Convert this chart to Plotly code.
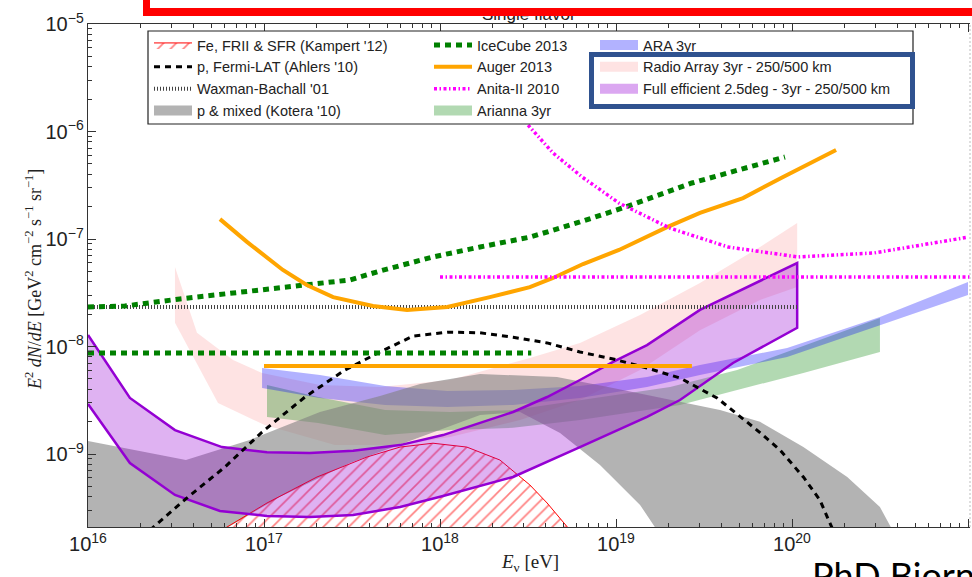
import plotly.graph_objects as go

# ---------------- data: E in eV, E^2 dN/dE in GeV cm^-2 s^-1 sr^-1 ----------------
icecube_E = [1.0e16, 1.62e16, 3.33e16, 5.85e16, 1.12e17, 1.75e17, 3.08e17, 4.56e17, 9.12e17,
             1.69e18, 3.24e18, 6.24e18, 1.14e19, 2.70e19, 5.55e19, 9.12e19]
icecube_F = [2.33e-8, 2.38e-8, 2.77e-8, 3.08e-8, 3.50e-8, 3.81e-8, 4.16e-8, 5.04e-8, 6.81e-8,
             8.43e-8, 1.04e-7, 1.44e-7, 1.99e-7, 3.32e-7, 4.68e-7, 5.79e-7]
icecube_int_E = [1.0e16, 3.3e18]
icecube_int_F = [8.7e-9, 8.7e-9]

auger_E = [5.62e16, 8.0e16, 1.28e17, 1.75e17, 2.47e17, 4.16e17, 6.5e17, 1.10e18, 1.92e18,
           3.24e18, 4.39e18, 6.5e18, 1.04e19, 1.95e19, 3.0e19, 5.27e19, 8.9e19, 1.78e20]
auger_F = [1.53e-7, 9.4e-8, 5.15e-8, 3.73e-8, 2.88e-8, 2.38e-8, 2.19e-8, 2.33e-8, 2.88e-8,
           3.57e-8, 4.34e-8, 5.85e-8, 7.91e-8, 1.29e-7, 1.75e-7, 2.40e-7, 3.78e-7, 6.73e-7]
auger_int_E = [1.0e17, 2.7e19]
auger_int_F = [6.6e-9, 6.6e-9]

anita_E = [2.34e18, 3.16e18, 4.39e18, 6.41e18, 1.04e19, 2.03e19, 4.33e19, 1.08e20, 2.92e20, 1.0e21]
anita_F = [2.19e-6, 1.15e-6, 6.31e-7, 3.78e-7, 2.16e-7, 1.26e-7, 8.43e-8, 6.81e-8, 7.41e-8, 1.04e-7]
anita_int_E = [1.0e18, 1.05e21]
anita_int_F = [4.44e-8, 4.44e-8]

fermi_E = [2.25e16, 3.70e16, 6.0e16, 9.75e16, 1.71e17, 2.88e17, 4.56e17, 7.03e17, 1.10e18, 1.69e18,
           2.60e18, 4.06e18, 6.24e18, 9.62e18, 1.50e19, 2.31e19, 3.75e19, 6.32e19, 8.55e19,
           1.16e20, 1.44e20, 1.71e20]
fermi_F = [1.96e-10, 3.98e-10, 7.57e-10, 1.60e-9, 3.39e-9, 6.04e-9, 8.89e-9, 1.25e-8, 1.36e-8, 1.34e-8,
           1.22e-8, 1.08e-8, 8.89e-9, 7.66e-9, 6.31e-9, 5.09e-9, 3.32e-9, 1.67e-9, 1.09e-9,
           6.11e-10, 3.73e-10, 1.96e-10]

wb_E = [1.0e16, 1.08e20]
wb_F = [2.33e-8, 2.33e-8]

kotera_up_E = [1e16, 3.6e16, 8.3e16, 2.08e17, 4.56e17, 7.7e17, 1.69e18, 4.62e18, 9.62e18, 2.03e19,
               3.9e19, 6.58e19, 1.16e20, 2.06e20, 3.16e20, 3.85e20]
kotera_up_F = [1.32e-9, 8.8e-10, 1.35e-9, 2.46e-9, 3.47e-9, 4.48e-9, 5.55e-9, 5.2e-9, 4.11e-9, 3.18e-9,
               2.56e-9, 1.99e-9, 1.16e-9, 6.1e-10, 3.21e-10, 1.77e-10]
kotera_lo_E = [1e16, 5.27e16, 1.23e17, 3.08e17, 7.7e17, 1.69e18, 2.85e18, 4.81e18, 8.11e18, 1.37e19, 1.78e19]
kotera_lo_F = [1.77e-10, 1.77e-10, 3.98e-10, 8.24e-10, 1.44e-9, 2.31e-9, 2.46e-9, 1.57e-9, 7.9e-10,
               3.36e-10, 1.77e-10]

kampert_E = [5.2e16, 6.17e16, 1.04e17, 2.0e17, 3.85e17, 5.93e17, 9.12e17, 1.42e18, 2.19e18, 3.24e18,
             4.06e18, 5.77e18]
kampert_F = [1.77e-10, 2.09e-10, 3.50e-10, 6.11e-10, 9.38e-10, 1.16e-9, 1.26e-9, 1.16e-9, 8.79e-10,
             5.15e-10, 3.50e-10, 1.77e-10]

radio_up_E = [3.12e16, 4.16e16, 6.67e16, 9.75e16, 2.08e17, 4.56e17, 1.14e18, 3.24e18, 6.24e18,
              1.37e19, 3.0e19, 6.58e19, 1.07e20]
radio_up_F = [5.5e-8, 1.34e-8, 7.48e-9, 5.66e-9, 4.39e-9, 4.2e-9, 4.88e-9, 7.82e-9, 1.08e-8,
              1.96e-8, 3.9e-8, 8.43e-8, 1.41e-7]
radio_lo_E = [3.12e16, 5.48e16, 1.01e17, 2.53e17, 5.93e17, 1.14e18, 2.85e18, 6.24e18, 1.37e19,
              3.0e19, 6.58e19, 1.07e20]
radio_lo_F = [1.66e-8, 2.98e-9, 1.86e-9, 1.21e-9, 1.21e-9, 1.44e-9, 2.07e-9, 3.18e-9, 6.04e-9,
              1.42e-8, 2.71e-8, 3.57e-8]

ara_E = [9.75e16, 2.08e17, 4.88e17, 1.10e18, 2.60e18, 6.24e18, 1.50e19, 3.0e19, 9.38e19, 3.16e20, 1.0e21]
ara_up_F = [6.31e-9, 5.43e-9, 4.30e-9, 3.86e-9, 3.94e-9, 4.30e-9, 5.20e-9, 6.73e-9, 9.68e-9, 1.88e-8, 3.98e-8]
ara_lo_F = [4.11e-9, 3.32e-9, 2.86e-9, 2.74e-9, 2.86e-9, 3.32e-9, 4.2e-9, 5.43e-9, 7.98e-9, 1.58e-8, 3.01e-8]

arianna_up_E = [1.04e17, 2.03e17, 4.88e17, 1.14e18, 2.60e18, 6.24e18, 2.03e19, 4.88e19, 9.38e19, 3.16e20]
arianna_up_F = [4.39e-9, 3.39e-9, 2.56e-9, 2.46e-9, 2.56e-9, 3.18e-9, 4.2e-9, 6.04e-9, 8.89e-9, 1.84e-8]
arianna_lo_E = [1.04e17, 2.03e17, 4.88e17, 1.14e18, 2.60e18, 6.24e18, 2.31e19, 4.88e19, 1.16e20, 3.16e20]
arianna_lo_F = [2.21e-9, 1.94e-9, 1.50e-9, 1.67e-9, 1.75e-9, 2.07e-9, 2.86e-9, 3.94e-9, 5.66e-9, 8.89e-9]

full_up_E = [1e16, 1.73e16, 3.12e16, 5.77e16, 1.04e17, 1.82e17, 3.21e17, 5.93e17, 1.04e18, 1.69e18,
             2.60e18, 4.06e18, 6.24e18, 9.62e18, 1.50e19, 3.0e19, 1.07e20]
full_up_F = [1.28e-8, 3.32e-9, 1.67e-9, 1.16e-9, 1.04e-9, 1.02e-9, 1.07e-9, 1.21e-9, 1.50e-9, 1.94e-9,
             2.46e-9, 3.39e-9, 4.88e-9, 7.18e-9, 1.03e-8, 2.19e-8, 5.98e-8]
full_lo_E = [1e16, 1.73e16, 3.12e16, 5.62e16, 1.04e17, 1.82e17, 3.21e17, 5.93e17, 1.04e18, 2.60e18,
             6.24e18, 1.50e19, 2.31e19, 4.62e19, 1.07e20]
full_lo_F = [2.92e-9, 8.24e-10, 4.16e-10, 2.95e-10, 2.65e-10, 2.59e-10, 2.71e-10, 3.21e-10, 4.06e-10,
             6.11e-10, 1.16e-9, 2.21e-9, 3.18e-9, 7.03e-9, 1.49e-8]

labels = {
    "kampert": "Fe, FRII &amp; SFR (Kampert '12)",
    "fermi": "p, Fermi-LAT (Ahlers '10)",
    "wb": "Waxman-Bachall '01",
    "kotera": "p &amp; mixed (Kotera '10)",
    "icecube": "IceCube 2013",
    "auger": "Auger 2013",
    "anita": "Anita-II 2010",
    "arianna": "Arianna 3yr",
    "ara": "ARA 3yr",
    "radio": "Radio Array 3yr - 250/500 km",
    "full": "Full efficient 2.5deg - 3yr - 250/500 km",
}

colors = {
    "radio": "rgba(250,128,128,0.22)",
    "arianna": "rgba(0,128,0,0.30)",
    "ara": "rgba(0,0,255,0.30)",
    "kotera": "rgba(128,128,128,0.6)",
    "full_fill": "rgba(148,0,211,0.30)",
    "full_line": "#9400D3",
}


def band(upE, upF, loE, loF):
    return list(upE) + list(loE)[::-1], list(upF) + list(loF)[::-1]


fig = go.Figure()

# ---- filled bands ----
x, y = band(radio_up_E, radio_up_F, radio_lo_E, radio_lo_F)
fig.add_trace(go.Scatter(x=x, y=y, fill="toself", mode="lines", line=dict(width=0),
                         fillcolor=colors["radio"], showlegend=False))
x, y = band(arianna_up_E, arianna_up_F, arianna_lo_E, arianna_lo_F)
fig.add_trace(go.Scatter(x=x, y=y, fill="toself", mode="lines", line=dict(width=0),
                         fillcolor=colors["arianna"], showlegend=False))
x, y = band(ara_E, ara_up_F, ara_E, ara_lo_F)
fig.add_trace(go.Scatter(x=x, y=y, fill="toself", mode="lines", line=dict(width=0),
                         fillcolor=colors["ara"], showlegend=False))
x, y = band(kotera_up_E, kotera_up_F, kotera_lo_E, kotera_lo_F)
fig.add_trace(go.Scatter(x=x, y=y, fill="toself", mode="lines", line=dict(width=0),
                         fillcolor=colors["kotera"], showlegend=False))
fig.add_trace(go.Scatter(x=kampert_E, y=kampert_F, fill="toself", mode="lines",
                         line=dict(color="red", width=1), fillcolor="rgba(0,0,0,0)",
                         fillpattern=dict(shape="/", fgcolor="red", bgcolor="rgba(0,0,0,0)",
                                          size=9, solidity=0.18),
                         name=labels["kampert"], legend="legend", legendrank=1))
x, y = band(full_up_E, full_up_F, full_lo_E, full_lo_F)
fig.add_trace(go.Scatter(x=x, y=y, fill="toself", mode="lines",
                         line=dict(color=colors["full_line"], width=2.5),
                         fillcolor=colors["full_fill"], showlegend=False))

# ---- lines ----
fig.add_trace(go.Scatter(x=wb_E, y=wb_F, mode="lines",
                         line=dict(color="#444", width=4, dash="1px,2px"),
                         name=labels["wb"], legend="legend", legendrank=3))
fig.add_trace(go.Scatter(x=fermi_E, y=fermi_F, mode="lines",
                         line=dict(color="black", width=3, dash="6px,5px"),
                         name=labels["fermi"], legend="legend", legendrank=2))
fig.add_trace(go.Scatter(x=icecube_E, y=icecube_F, mode="lines",
                         line=dict(color="#008000", width=5, dash="6px,5px"),
                         name=labels["icecube"], legend="legend2", legendrank=1))
fig.add_trace(go.Scatter(x=icecube_int_E, y=icecube_int_F, mode="lines",
                         line=dict(color="#008000", width=5, dash="6px,5px"),
                         showlegend=False))
fig.add_trace(go.Scatter(x=auger_E, y=auger_F, mode="lines",
                         line=dict(color="#FFA500", width=4),
                         name=labels["auger"], legend="legend2", legendrank=2))
fig.add_trace(go.Scatter(x=auger_int_E, y=auger_int_F, mode="lines",
                         line=dict(color="#FFA500", width=4), showlegend=False))
fig.add_trace(go.Scatter(x=anita_E, y=anita_F, mode="lines",
                         line=dict(color="#FF00FF", width=3.5, dash="3px,2.5px,1.5px,2.5px"),
                         name=labels["anita"], legend="legend2", legendrank=3))
fig.add_trace(go.Scatter(x=anita_int_E, y=anita_int_F, mode="lines",
                         line=dict(color="#FF00FF", width=3.5, dash="3px,2.5px,1.5px,2.5px"),
                         showlegend=False))

# ---- legend swatches for the filled bands (rectangular patches) ----
for key, leg, rank in [("kotera", "legend", 4), ("arianna", "legend2", 4), ("ara", "legend3", 1),
                       ("radio", "legend3", 2)]:
    fig.add_trace(go.Scatter(x=[None], y=[None], mode="lines",
                             line=dict(color=colors[key], width=13),
                             name=labels[key], legend=leg, legendrank=rank))
fig.add_trace(go.Scatter(x=[None], y=[None], mode="lines",
                         line=dict(color="rgba(175,60,225,0.45)", width=13),
                         name=labels["full"], legend="legend3", legendrank=3))

# ---- layout (pixel helpers for paper coordinates) ----
L, R, T, B = 88, 970, 24, 527
W, H = 972, 577


def px(X):
    return (X - L) / (R - L)


def py(Y):
    return (B - Y) / (B - T)


legend_common = dict(bgcolor="rgba(0,0,0,0)", borderwidth=0, xanchor="left", yanchor="top",
                     font=dict(family="Liberation Sans", size=14.5, color="#222"),
                     tracegroupgap=0, itemwidth=38, traceorder="normal")

axis_common = dict(type="log", showgrid=False, zeroline=False, showline=True, linecolor="#333",
                   linewidth=1.2, ticks="inside", ticklen=8, tickcolor="#333",
                   dtick=1, exponentformat="power",
                   tickfont=dict(family="Liberation Sans", size=16, color="#222"),
                   minor=dict(ticks="inside", ticklen=4, tickcolor="#333", dtick="D1", showgrid=False))

fig.update_layout(
    width=W, height=H,
    margin=dict(l=L, r=W - R, t=T, b=H - B),
    paper_bgcolor="white", plot_bgcolor="white",
    hovermode=False,
    xaxis=dict(axis_common, mirror="ticks", range=[16, 16 + (R - L) / 176]),
    yaxis=dict(axis_common, mirror=False, range=[-5 - (B - T) / 107.5, -5]),
    legend=dict(legend_common, x=px(149), y=py(29)),
    legend2=dict(legend_common, x=px(429), y=py(29)),
    legend3=dict(legend_common, x=px(595), y=py(29)),
    shapes=[
        dict(type="rect", xref="paper", yref="paper", x0=px(148), x1=px(913), y0=py(124), y1=py(31),
             line=dict(color="#222", width=1.2), fillcolor="white", layer="above"),
        # faint right-hand frame of the axes
        dict(type="line", xref="paper", yref="paper", x0=1, x1=1, y0=0, y1=1,
             line=dict(color="#c8c8c8", width=1.2, dash="2px,2px"), layer="above"),
    ],
    annotations=[
        dict(text="Single flavor", xref="paper", yref="paper", x=0.5, y=py(26), xanchor="center",
             yanchor="bottom", showarrow=False, font=dict(family="Liberation Sans", size=17, color="#222")),
        # red frame of the slide (bottom edge and left edge)
        dict(text=" ", xref="paper", yref="paper", x=px(143), y=py(16), xanchor="left", yanchor="bottom",
             width=840, height=8, bgcolor="red", showarrow=False, font=dict(size=1), borderpad=0,
             borderwidth=0),
        dict(text=" ", xref="paper", yref="paper", x=px(143), y=py(16), xanchor="left", yanchor="bottom",
             width=7, height=20, bgcolor="red", showarrow=False, font=dict(size=1), borderpad=0,
             borderwidth=0),
        # dark-blue highlight box around two legend entries
        dict(text=" ", xref="paper", yref="paper", x=px(589), y=py(52), xanchor="left", yanchor="top",
             width=316, height=47, bgcolor="rgba(0,0,0,0)", bordercolor="#2F528F", borderwidth=5,
             borderpad=0, showarrow=False, font=dict(size=1)),
        # axis titles
        dict(text="<i>E</i><sub>ν</sub> [eV]", xref="paper", yref="paper", x=px(530), y=py(563),
             xanchor="center", yanchor="middle", showarrow=False,
             font=dict(family="Liberation Serif", size=19, color="#222")),
        dict(text="<i>E</i><sup>2</sup> <i>dN</i>/<i>dE</i> [GeV<sup>2</sup> cm<sup>−2</sup> s<sup>−1</sup> sr<sup>−1</sup>]",
             xref="paper", yref="paper", x=px(33), y=py(280), xanchor="center", yanchor="middle",
             textangle=-90, showarrow=False,
             font=dict(family="Liberation Serif", size=18, color="#222")),
        # slide footer text (cut off by the page edge, as in the original)
        dict(text="PhD Bjorn", xref="paper", yref="paper", x=px(810), y=py(551), xanchor="left",
             yanchor="top", showarrow=False, font=dict(family="Lato", size=36, color="black")),
    ],
)

fig.write_html("out.html")
